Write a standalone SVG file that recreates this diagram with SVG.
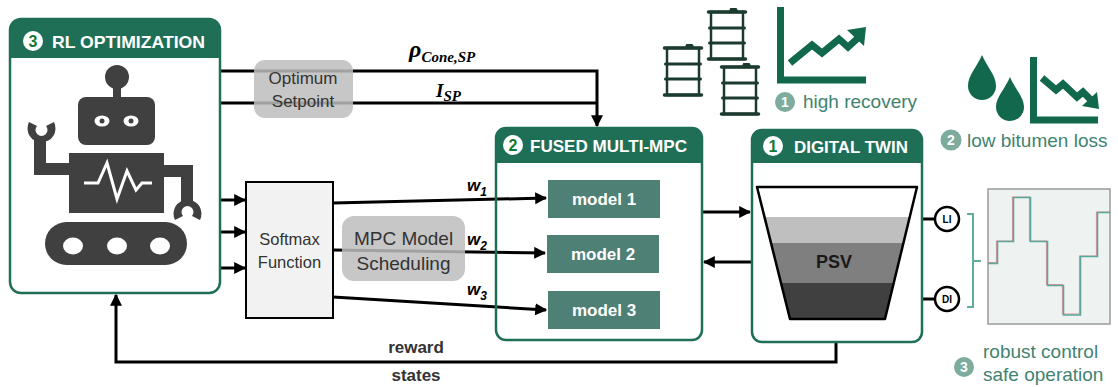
<svg xmlns="http://www.w3.org/2000/svg" xmlns:xlink="http://www.w3.org/1999/xlink" width="1118" height="387" viewBox="0 0 1118 387">
  <style>
    .frame { fill: #ffffff; stroke: #1f6f57; stroke-width: 2.5; }
    .band { fill: #1f6f57; }
    .head { font-family: "Liberation Sans", Arial, sans-serif; font-weight: bold; font-size: 17px; fill: #ffffff; }
    .badge { fill: #ffffff; }
    .badgeNum { font-family: "Liberation Sans", Arial, sans-serif; font-weight: bold; font-size: 16px; fill: #137a35; text-anchor: middle; }
    .model { fill: #4f8075; }
    .modelTxt { font-family: "Liberation Sans", Arial, sans-serif; font-weight: bold; font-size: 17px; fill: #ffffff; text-anchor: middle; }
    .note { fill: #bdbdbd; fill-opacity: 0.85; }
    .plain { font-family: "Liberation Sans", Arial, sans-serif; fill: #333333; text-anchor: middle; }
    .wire { fill: none; stroke: #000000; stroke-width: 3; }
    .math { font-family: "Liberation Serif", "Times New Roman", serif; font-weight: bold; font-style: italic; fill: #000000; }
    .wlab { font-family: "Liberation Sans", Arial, sans-serif; font-weight: bold; font-style: italic; fill: #000000; }
    .robot { fill: #404040; }
    .icon { fill: #12684c; }
    .iconLine { fill: none; stroke: #12684c; stroke-width: 7; }
    .goal { font-family: "Liberation Sans", Arial, sans-serif; font-size: 19px; fill: #3f8370; }
    .goalBadge { fill: #7dac9e; }
    .goalNum { font-family: "Liberation Sans", Arial, sans-serif; font-weight: bold; font-size: 14px; fill: #ffffff; text-anchor: middle; }
    .sensor { fill: #ffffff; stroke: #000000; stroke-width: 2.5; }
    .sensorTxt { font-family: "Liberation Sans", Arial, sans-serif; font-weight: bold; font-size: 10px; fill: #000000; text-anchor: middle; }
  </style>
  <defs>
    <marker id="arr" viewBox="0 0 10 10" refX="9" refY="5" markerWidth="4" markerHeight="4" orient="auto" markerUnits="strokeWidth">
      <path d="M0,0 L10,5 L0,10 Z" fill="#000000"/>
    </marker>
    <symbol id="barrel" viewBox="0 0 40 54" width="40" height="54" overflow="visible">
      <g fill="none" stroke="#1c3b2f" stroke-linecap="round">
        <rect x="23" y="0.5" width="7" height="3" rx="1" fill="#1c3b2f" stroke-width="1"/>
        <rect x="4" y="4" width="32" height="47" fill="#ffffff" stroke-width="2.5"/>
        <line x1="1.5" y1="4" x2="38.5" y2="4" stroke-width="3.5"/>
        <line x1="1.5" y1="51" x2="38.5" y2="51" stroke-width="3.5"/>
        <line x1="2.5" y1="20" x2="37.5" y2="20" stroke-width="3"/>
        <line x1="2.5" y1="35" x2="37.5" y2="35" stroke-width="3"/>
      </g>
    </symbol>
  </defs>

  <!-- connectors -->
  <g id="connectors">
    <!-- set-points to the fused MPC -->
    <path class="wire" d="M220,71 H597 V126" marker-end="url(#arr)"/>
    <path class="wire" d="M220,103 H597"/>
    <!-- RL outputs into softmax -->
    <path class="wire" d="M220,200 H245" marker-end="url(#arr)"/>
    <path class="wire" d="M220,232 H245" marker-end="url(#arr)"/>
    <path class="wire" d="M220,268 H245" marker-end="url(#arr)"/>
    <!-- weights to the models -->
    <path class="wire" d="M333,203 L546,198" marker-end="url(#arr)"/>
    <path class="wire" d="M333,250 L545,253" marker-end="url(#arr)"/>
    <path class="wire" d="M333,297 L546,310" marker-end="url(#arr)"/>
    <!-- MPC <-> digital twin -->
    <path class="wire" d="M702,212 H750" marker-end="url(#arr)"/>
    <path class="wire" d="M752,262 H704" marker-end="url(#arr)"/>
    <!-- feedback: reward / states -->
    <path class="wire" d="M836,342 V362 H116 V295" marker-end="url(#arr)"/>
    <!-- sensor taps -->
    <path class="wire" d="M909,219 H934"/>
    <path class="wire" d="M890,299 H934"/>
  </g>

  <!-- labels on connectors -->
  <g id="connector-labels">
    <text class="math" x="409" y="57" font-size="24">ρ<tspan font-size="15" dy="5">Cone,SP</tspan></text>
    <text class="math" x="436" y="97" font-size="19">I<tspan font-size="15" dy="4">SP</tspan></text>
    <text class="wlab" x="467" y="191" font-size="17">w<tspan font-size="12" dy="5">1</tspan></text>
    <text class="wlab" x="467" y="245" font-size="17">w<tspan font-size="12" dy="5">2</tspan></text>
    <text class="wlab" x="467" y="295" font-size="17">w<tspan font-size="12" dy="5">3</tspan></text>
    <text class="plain" x="416" y="353" font-size="17" font-weight="bold" fill="#000000">reward</text>
    <text class="plain" x="416" y="381" font-size="17" font-weight="bold" fill="#000000">states</text>
  </g>

  <!-- RL optimization block -->
  <g id="rl-optimization">
    <rect class="frame" x="10" y="19" width="210" height="274" rx="11"/>
    <path class="band" d="M10,30 A11,11 0 0 1 21,19 H209 A11,11 0 0 1 220,30 V58 H10 Z"/>
    <circle class="badge" cx="33" cy="41" r="10"/>
    <text class="badgeNum" x="33" y="47">3</text>
    <text class="head" x="52" y="47.5" textLength="153" lengthAdjust="spacingAndGlyphs">RL OPTIMIZATION</text>
    <!-- robot -->
    <g class="robot">
      <circle cx="117" cy="77" r="12"/>
      <rect x="113" y="80" width="8" height="20"/>
      <rect x="78" y="97" width="77" height="48" rx="8"/>
      <rect x="69" y="153" width="95" height="60"/>
      <!-- left arm -->
      <path d="M34,136 H46 V163 H70 V175 H34 Z"/>
      <path d="M29,122 A14,14 0 1 0 54,122 L46,126 A6,6 0 1 1 37,126 Z"/>
      <!-- right arm -->
      <path d="M163,165 H193 V202 H181 V177 H163 Z"/>
      <path d="M175,220 A14,14 0 1 1 200,220 L192,216 A6,6 0 1 0 183,216 Z"/>
      <!-- treads -->
      <rect x="45" y="222" width="142" height="43" rx="21.5"/>
    </g>
    <g fill="#ffffff">
      <ellipse cx="102" cy="121" rx="7.5" ry="5.5"/>
      <ellipse cx="131" cy="121" rx="7.5" ry="5.5"/>
      <ellipse cx="73" cy="246" rx="10" ry="8.5"/>
      <ellipse cx="117" cy="246" rx="10" ry="8.5"/>
      <ellipse cx="160" cy="246" rx="10" ry="8.5"/>
    </g>
    <g fill="#404040">
      <circle cx="102" cy="121" r="2.5"/>
      <circle cx="131" cy="121" r="2.5"/>
    </g>
    <polyline points="84,183 98,183 107,163 117,199 127,171 136,190 142,183 152,183" fill="none" stroke="#ffffff" stroke-width="3"/>
  </g>

  <!-- set-point note -->
  <g id="optimum-setpoint">
    <rect class="note" x="254" y="60" width="99" height="58" rx="11"/>
    <text class="plain" x="303" y="84" font-size="17">Optimum</text>
    <text class="plain" x="303" y="107" font-size="17">Setpoint</text>
  </g>

  <!-- softmax -->
  <g id="softmax">
    <rect x="246" y="182" width="87" height="136" fill="#f2f2f2" stroke="#000000" stroke-width="2"/>
    <text class="plain" x="289.5" y="245" font-size="16.5">Softmax</text>
    <text class="plain" x="289.5" y="268" font-size="16.5">Function</text>
  </g>

  <!-- fused multi-MPC block -->
  <g id="fused-multi-mpc">
    <rect class="frame" x="496" y="128" width="206" height="212" rx="10" fill-opacity="0"/>
    <path class="band" d="M496,138 A10,10 0 0 1 506,128 H692 A10,10 0 0 1 702,138 V163 H496 Z"/>
    <circle class="badge" cx="513" cy="145" r="10"/>
    <text class="badgeNum" x="513" y="151">2</text>
    <text class="head" x="530" y="151.5" textLength="157" lengthAdjust="spacingAndGlyphs">FUSED MULTI-MPC</text>
  </g>
  <g id="model-1">
    <rect class="model" x="548" y="180" width="112" height="38"/>
    <text class="modelTxt" x="604" y="205">model 1</text>
  </g>
  <g id="model-2">
    <rect class="model" x="547" y="235" width="112" height="38"/>
    <text class="modelTxt" x="603" y="260">model 2</text>
  </g>
  <g id="model-3">
    <rect class="model" x="548" y="291" width="112" height="38"/>
    <text class="modelTxt" x="604" y="316">model 3</text>
  </g>

  <!-- scheduling note (drawn over the weight wires) -->
  <g id="mpc-model-scheduling">
    <rect class="note" x="342" y="216" width="123" height="65" rx="12"/>
    <text class="plain" x="403.5" y="245" font-size="19">MPC Model</text>
    <text class="plain" x="403.5" y="270" font-size="19">Scheduling</text>
  </g>

  <!-- digital twin block -->
  <g id="digital-twin">
    <rect class="frame" x="752" y="130" width="170" height="212" rx="10"/>
    <path class="band" d="M752,140 A10,10 0 0 1 762,130 H912 A10,10 0 0 1 922,140 V163 H752 Z"/>
    <circle class="badge" cx="773" cy="146" r="10"/>
    <text class="badgeNum" x="773" y="152">1</text>
    <text class="head" x="794" y="152.5" textLength="114" lengthAdjust="spacingAndGlyphs">DIGITAL TWIN</text>
    <!-- separation vessel layers -->
    <polygon points="764.5,217 909.7,217 903.4,243 771,243" fill="#bfbfbf"/>
    <polygon points="771,243 903.4,243 893.7,283 781,283" fill="#7f7f7f"/>
    <polygon points="781,283 893.7,283 885,319 790,319" fill="#404040"/>
    <polygon points="757,187 917,187 885,319 790,319" fill="none" stroke="#000000" stroke-width="2.5" stroke-linejoin="round"/>
    <text x="834" y="268" font-family="Liberation Sans, Arial, sans-serif" font-weight="bold" font-size="18" fill="#1a1a1a" text-anchor="middle">PSV</text>
  </g>

  <!-- level / density indicators -->
  <g id="sensor-li">
    <circle class="sensor" cx="947" cy="219" r="12"/>
    <text class="sensorTxt" x="947" y="222.5">LI</text>
  </g>
  <g id="sensor-di">
    <circle class="sensor" cx="947" cy="299" r="12"/>
    <text class="sensorTxt" x="947" y="302.5">DI</text>
  </g>

  <!-- tracking plot -->
  <g id="tracking-plot">
    <path d="M967,214 H973 V307 H967 M973,261 H981" fill="none" stroke="#5fae9b" stroke-width="2"/>
    <rect x="988" y="189" width="122" height="135" fill="#eef3f1" stroke="#9a9a9a" stroke-width="1.5"/>
    <!-- setpoint trace -->
    <polyline points="988,262.5 996.5,262.5 996.5,241 1012.5,241 1012.5,197 1029.5,197 1029.5,241 1046.5,241 1046.5,284.5 1062.5,284.5 1062.5,314 1079.5,314 1079.5,256 1096.5,256 1096.5,212 1110,212" fill="none" stroke="#e6798a" stroke-width="1.2" stroke-opacity="0.8"/>
    <!-- measured trace -->
    <polyline points="988,263.5 997.5,263.5 997.5,241.5 1013.5,241.5 1013.5,197.5 1030.5,197.5 1030.5,241.5 1047.5,241.5 1047.5,285.5 1063.5,285.5 1063.5,315 1080.5,315 1080.5,256.5 1097.5,256.5 1097.5,212.5 1110,212.5" fill="none" stroke="#5aa89c" stroke-width="1.6"/>
    <circle class="goalBadge" cx="964" cy="367" r="10"/>
    <text class="goalNum" x="964" y="372">3</text>
    <text class="goal" x="983" y="358">robust control</text>
    <text class="goal" x="983" y="381">safe operation</text>
  </g>

  <!-- recovery goal -->
  <g id="high-recovery">
    <use href="#barrel" x="707" y="8"/>
    <use href="#barrel" x="663" y="44"/>
    <use href="#barrel" x="720" y="63"/>
    <path class="iconLine" d="M780.5,7 V80 H866" stroke-width="7"/>
    <polyline class="iconLine" points="790,63 812,45 822,53 839,39 848,47 858,38"/>
    <polygon class="icon" points="847,30 866,27 864,46"/>
    <circle class="goalBadge" cx="785" cy="102" r="10"/>
    <text class="goalNum" x="785" y="107">1</text>
    <text class="goal" x="803" y="108">high recovery</text>
  </g>

  <!-- bitumen loss goal -->
  <g id="low-bitumen-loss">
    <path class="icon" d="M982,55 C977,67 968,75 968,86 A14,14 0 0 0 996,86 C996,75 987,67 982,55 Z"/>
    <path class="icon" d="M1010,77 C1005,89 996,97 996,107 A14,14 0 0 0 1024,107 C1024,97 1015,89 1010,77 Z"/>
    <path class="iconLine" d="M1033.5,57 V120 H1098" stroke-width="6"/>
    <polyline class="iconLine" points="1042,78 1056,90 1063,84 1077,97 1083,92 1091,100" stroke-width="6"/>
    <polygon class="icon" points="1082,106 1099,109 1097,92"/>
    <circle class="goalBadge" cx="951" cy="140" r="10.5"/>
    <text class="goalNum" x="951" y="145">2</text>
    <text class="goal" x="967" y="147">low bitumen loss</text>
  </g>
</svg>
